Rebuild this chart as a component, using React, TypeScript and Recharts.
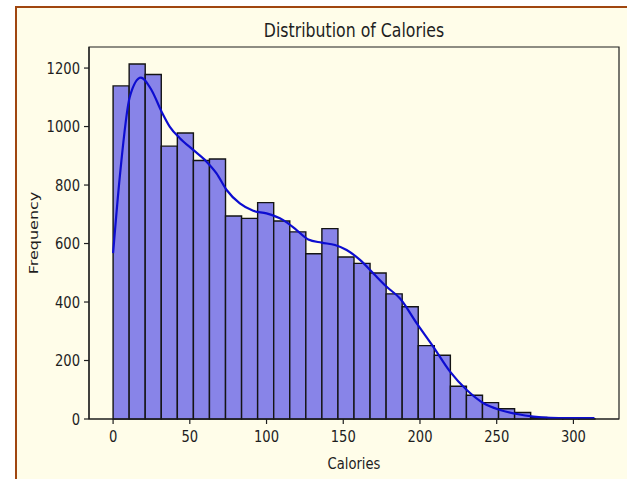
import { ComposedChart, XAxis, YAxis, Line, ReferenceArea } from 'recharts';

// histogram of calories, 30 equal bins from min to max
const CALORIE_MIN = 0;
const CALORIE_MAX = 314;
const BIN_COUNTS = [
  1139, 1214, 1178, 933, 978, 884, 889, 694, 686, 740,
  677, 640, 565, 651, 554, 532, 499, 428, 384, 251,
  218, 112, 81, 56, 35, 22, 5, 2, 1, 1,
];

// kde curve (scaled to counts)
const KDE_X = [
  0, 4.4, 10.9, 18.1, 25, 31.6, 37, 43.5, 52.2, 60.9, 67.4, 74, 82.6, 91.3, 100,
  110.9, 119.6, 127.2, 135.9, 144.6, 152.2, 160.9, 169.6, 178.3, 187, 197.9,
  208.7, 219.6, 230.5, 241.4, 252.2, 263.1, 274, 284.9, 295.8, 313.7,
];
const KDE_Y = [
  567, 830, 1102, 1167, 1125, 1051, 999, 960, 920, 880, 840, 783, 737, 712, 703,
  680, 646, 614, 603, 595, 578, 544, 498, 452, 412, 327,
  247, 162, 99, 54, 31, 17, 8, 4, 3, 3,
];

const X_TICKS = [0, 50, 100, 150, 200, 250, 300];
const Y_TICKS = [0, 200, 400, 600, 800, 1000, 1200];

const X_DOMAIN: [number, number] = [-15.7, 329.7];
const Y_DOMAIN: [number, number] = [0, 1272];

const FONT = '"DejaVu Sans", sans-serif';
const SQUEEZE = 0.82;
const INK = '#1e1e1e';
const CREAM = '#fffde9';

const binWidth = (CALORIE_MAX - CALORIE_MIN) / BIN_COUNTS.length;
const bins = BIN_COUNTS.map((count, i) => ({
  x1: CALORIE_MIN + i * binWidth,
  x2: CALORIE_MIN + (i + 1) * binWidth,
  count,
}));
const kdeData = KDE_X.map((x, i) => ({ calories: x, freq: KDE_Y[i] }));

function YTick({ x, y, payload }: any) {
  return (
    <g transform={`translate(${x},${y}) scale(${SQUEEZE},1)`}>
      <text textAnchor="end" dy="0.36em" fontSize={16} fontFamily={FONT} fill={INK}>
        {payload.value}
      </text>
    </g>
  );
}

function XTick({ x, y, payload }: any) {
  return (
    <g transform={`translate(${x},${y}) scale(${SQUEEZE},1)`}>
      <text textAnchor="middle" dy="0.71em" fontSize={16} fontFamily={FONT} fill={INK}>
        {payload.value}
      </text>
    </g>
  );
}

export default function App() {
  return (
    <div style={{ position: 'absolute', left: 0, top: 0, width: 627, height: 479, background: '#fff', overflow: 'hidden' }}>
      <div
        style={{
          position: 'absolute',
          left: 15,
          top: 6,
          width: 612,
          height: 473,
          boxSizing: 'border-box',
          borderLeft: '2px solid #a0460f',
          borderTop: '2px solid #a0460f',
          background: CREAM,
        }}
      />
      <div style={{ position: 'absolute', left: 0, top: 0 }}>
        <ComposedChart width={627} height={479} margin={{ top: 47, right: 8, bottom: 0, left: 0 }}>
          <XAxis
            type="number"
            dataKey="calories"
            domain={X_DOMAIN}
            allowDataOverflow
            ticks={X_TICKS}
            tick={<XTick />}
            tickSize={5}
            tickMargin={7}
            height={60}
            axisLine={{ stroke: INK, strokeWidth: 1.2 }}
            tickLine={{ stroke: INK, strokeWidth: 1.2 }}
          />
          <YAxis
            type="number"
            domain={Y_DOMAIN}
            allowDataOverflow
            ticks={Y_TICKS}
            tick={<YTick />}
            tickSize={5}
            tickMargin={4}
            width={89}
            axisLine={{ stroke: INK, strokeWidth: 1.2 }}
            tickLine={{ stroke: INK, strokeWidth: 1.2 }}
          />
          {/* plot frame */}
          <ReferenceArea
            x1={X_DOMAIN[0]}
            x2={X_DOMAIN[1]}
            y1={Y_DOMAIN[0]}
            y2={Y_DOMAIN[1]}
            fill="none"
            stroke={INK}
            strokeWidth={1.2}
            ifOverflow="visible"
          />
          {bins.map((b) => (
            <ReferenceArea
              key={b.x1}
              x1={b.x1}
              x2={b.x2}
              y1={0}
              y2={b.count}
              fill="#8884e8"
              fillOpacity={1}
              stroke="#141414"
              strokeWidth={1.4}
              ifOverflow="visible"
            />
          ))}
          <Line
            data={kdeData}
            dataKey="freq"
            type="monotone"
            stroke="#0d0dd0"
            strokeWidth={2.2}
            dot={false}
            activeDot={false}
            isAnimationActive={false}
          />
        </ComposedChart>
      </div>
      <svg width={627} height={479} style={{ position: 'absolute', left: 0, top: 0, pointerEvents: 'none' }}>
        <g transform={`translate(354,37) scale(${SQUEEZE},1)`}>
          <text textAnchor="middle" fontSize={19.2} fontFamily={FONT} fill={INK}>
            Distribution of Calories
          </text>
        </g>
        <g transform={`translate(354,469) scale(${SQUEEZE},1)`}>
          <text textAnchor="middle" fontSize={16} fontFamily={FONT} fill={INK}>
            Calories
          </text>
        </g>
        <g transform={`translate(33,233) rotate(-90) scale(1,${SQUEEZE})`}>
          <text textAnchor="middle" dy="0.36em" fontSize={16} fontFamily={FONT} fill={INK}>
            Frequency
          </text>
        </g>
      </svg>
    </div>
  );
}
